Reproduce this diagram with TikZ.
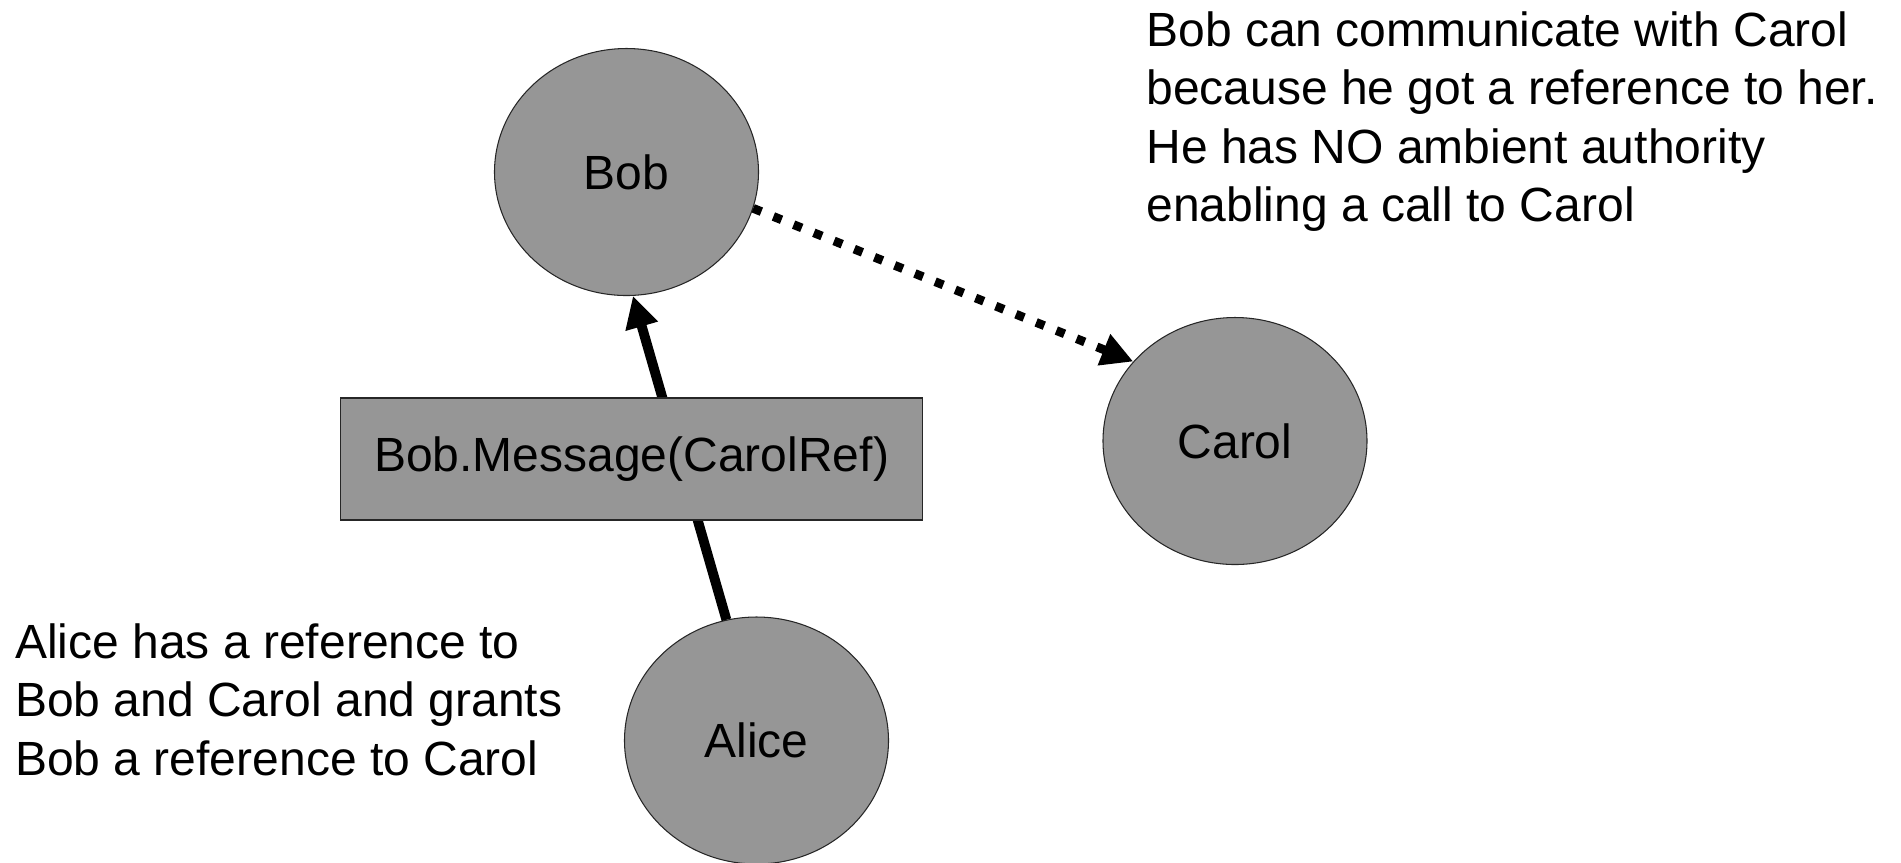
\documentclass[tikz,border=0pt]{standalone}
\usepackage{fontspec}
\setmainfont{Liberation Sans}
\usetikzlibrary{shapes.geometric,arrows.meta}
\definecolor{actorgray}{RGB}{150,150,150}
\tikzset{
  actor/.style={ellipse, draw=black!85, line width=0.3pt, fill=actorgray, minimum width=2.64cm, minimum height=2.47cm, inner sep=0pt},
  message/.style={rectangle, draw=black!85, line width=0.3pt, fill=actorgray, minimum width=5.82cm, minimum height=1.22cm, inner sep=0pt},
  note/.style={align=left, inner sep=0pt, anchor=north west},
  call/.style={line width=2.8pt, arrows={-Triangle[length=9pt,width=9pt]}},
  reach/.style={line width=2.5pt, dash pattern=on 2.5pt off 3.7pt, arrows={-Triangle[length=9pt,width=9pt]}}
}

\begin{document}
\begin{tikzpicture}[font=\fontsize{13.66pt}{16.6pt}\selectfont]
  \useasboundingbox (0,0) rectangle (19.01,-8.62);

  \node[actor] at (6.265,-1.72) (Bob) {Bob};
  \node[actor] at (12.35,-4.41) (Carol) {Carol};
  \node[actor] at (7.565,-7.405) (Alice) {Alice};

  \draw[call] (Alice.104) -- (Bob.-87);
  \node[message] at (6.316,-4.59) (msg) {Bob.Message(CarolRef)};

  \draw[reach] (Bob.-16) -- (Carol.142);

  \node[note] at (11.457,-0.11) (bob note) {Bob can communicate with Carol\\because he got a reference to her.\\He has NO ambient authority\\enabling a call to Carol};
  \node[note] at (0.145,-6.23) (alice note) {Alice has a reference to\\Bob and Carol and grants\\Bob a reference to Carol};
\end{tikzpicture}
\end{document}
